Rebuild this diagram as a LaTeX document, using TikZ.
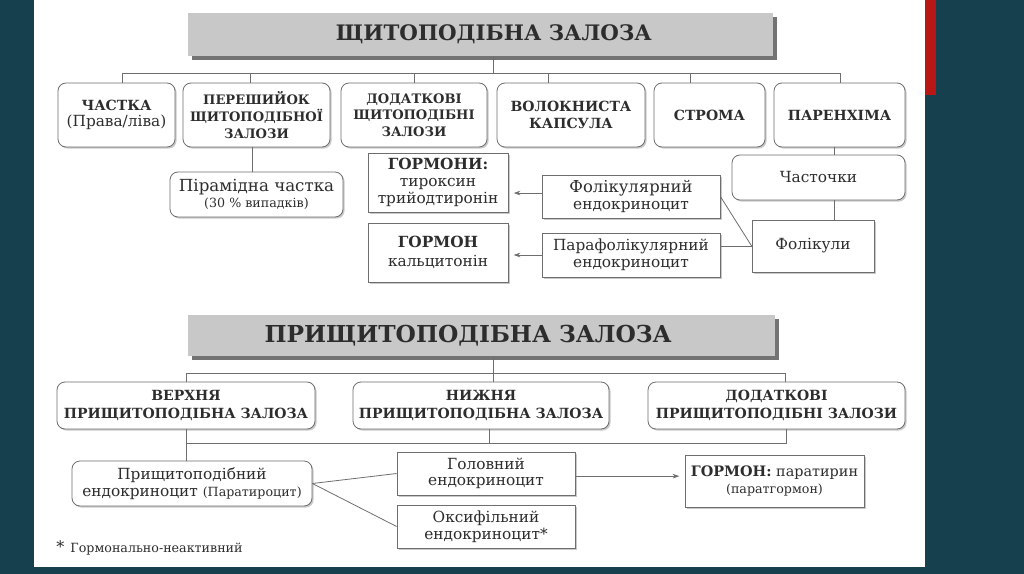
\documentclass[tikz,border=0pt]{standalone}
\usepackage{fontspec}
\setmainfont{DejaVu Serif}
\usetikzlibrary{arrows.meta,shadows}
\definecolor{bgteal}{RGB}{22,64,77}
\definecolor{redbar}{RGB}{185,22,22}
\definecolor{txt}{RGB}{45,45,45}
\definecolor{edge}{RGB}{110,110,110}
\definecolor{titlefill}{RGB}{200,200,200}
\definecolor{titleshadow}{RGB}{115,115,115}
\begin{document}
\begin{tikzpicture}[x=0.75pt,y=-0.75pt,
  sz/.style 2 args={minimum width=#1*0.75pt, minimum height=#2*0.75pt},
  base/.style={draw=edge, line width=0.6pt, fill=white, align=center, text=txt, inner sep=1pt,
    font=\fontsize{10.5}{12.5}\selectfont,
    drop shadow={shadow xshift=1.2pt, shadow yshift=-1.2pt, fill=black!35, opacity=0.6}},
  rbox/.style={base, rounded corners=6pt},
  sbox/.style={base},
  titlebox/.style={fill=titlefill, draw=none, text=txt, font=\fontsize{16}{18}\selectfont\bfseries,
    drop shadow={shadow xshift=3pt, shadow yshift=-3pt, fill=titleshadow, opacity=1}},
  conn/.style={draw=edge, line width=0.6pt},
  arr/.style={conn, -{Stealth[length=5pt,width=3.5pt]}, shorten >=4pt},
]
\useasboundingbox (0,0) rectangle (1024,574);
\fill[bgteal] (0,0) rectangle (1024,574);
\fill[white] (34,0) rectangle (925,567);
\fill[redbar] (925,0) rectangle (936,95);

% ---------- upper part ----------
\node[titlebox, sz={585}{43}] (t1) at (480.5,34.5) {\hspace*{20pt}ЩИТОПОДІБНА ЗАЛОЗА};

\node[rbox, sz={117}{64}] (chastka) at (116.5,115) {\textbf{ЧАСТКА}\\{\fontsize{11.5}{13}\selectfont (Права/ліва)}};
\node[rbox, sz={147}{64}, font=\fontsize{9.8}{12.5}\selectfont\bfseries] (peresh) at (256.5,115) {ПЕРЕШИЙОК\\ЩИТОПОДІБНОЇ\\ЗАЛОЗИ};
\node[rbox, sz={146}{64}, font=\fontsize{9.8}{12.5}\selectfont\bfseries] (dod1) at (414,115) {ДОДАТКОВІ\\ЩИТОПОДІБНІ\\ЗАЛОЗИ};
\node[rbox, sz={148}{64}, font=\fontsize{10.5}{12.5}\selectfont\bfseries] (volok) at (571,115) {ВОЛОКНИСТА\\КАПСУЛА};
\node[rbox, sz={111}{64}, font=\fontsize{10.5}{12.5}\selectfont\bfseries] (stroma) at (709.5,115) {СТРОМА};
\node[rbox, sz={131}{64}, font=\fontsize{10.5}{12.5}\selectfont\bfseries] (paren) at (839.5,115) {ПАРЕНХІМА};

\coordinate (bus1) at (0,73);
\draw[conn] ([xshift=9.75pt]t1.south) -- ([xshift=9.75pt]t1.south |- bus1);
\draw[conn] ([xshift=4.5pt]chastka.north) -- ([xshift=4.5pt]chastka.north |- bus1) -- ([xshift=1pt]paren.north |- bus1) -- ([xshift=1pt]paren.north);
\draw[conn] ([xshift=-4.9pt]peresh.north) -- ([xshift=-4.9pt]peresh.north |- bus1);
\draw[conn] (dod1.north) -- (dod1.north |- bus1);
\draw[conn] ([xshift=-17.25pt]volok.north) -- ([xshift=-17.25pt]volok.north |- bus1);
\draw[conn] ([xshift=-14.6pt]stroma.north) -- ([xshift=-14.6pt]stroma.north |- bus1);

\node[rbox, sz={173}{45}] (piram) at (256.5,194.5) {{\fontsize{12.5}{13.5}\selectfont Пірамідна частка}\\{\fontsize{9.5}{11}\selectfont (30 \% випадків)}};
\draw[conn] ([xshift=-3.4pt]peresh.south) -- ([xshift=-3.4pt]peresh.south |- piram.north);

\node[sbox, sz={140}{59}, font=\fontsize{11.5}{12.5}\selectfont] (gormony) at (438,182.5) {\textbf{ГОРМОНИ:}\\тироксин\\трийодтиронін};
\node[sbox, sz={140}{59}, font=\fontsize{11.5}{14}\selectfont] (gormon) at (438,252.5) {\textbf{ГОРМОН}\\кальцитонін};
\node[sbox, sz={178}{43}, font=\fontsize{11.5}{12.5}\selectfont] (folik) at (631,196.5) {{\fontsize{12.3}{12.5}\selectfont Фолікулярний}\\ендокриноцит};
\node[sbox, sz={178}{44}, font=\fontsize{11.5}{12.5}\selectfont] (parafolik) at (631,255) {Парафолікулярний\\ендокриноцит};
\node[rbox, sz={173}{45}, font=\fontsize{11.5}{13}\selectfont] (chastochky) at (818.5,177.5) {Часточки};
\node[sbox, sz={122}{52}, font=\fontsize{11.5}{13}\selectfont] (folikuly) at (813,246) {Фолікули};

\draw[arr] ([yshift=2.6pt]folik.west) -- ([yshift=2.6pt]folik.west -| gormony.east);
\draw[arr] (parafolik.west) -- (parafolik.west -| gormon.east);
\draw[conn] ([xshift=-4pt]paren.south) -- ([xshift=-4pt]paren.south |- chastochky.north);
\draw[conn] ([xshift=-4pt]paren.south |- chastochky.south) -- ([xshift=-4pt]paren.south |- folikuly.north);
\draw[conn] (folikuly.west) -- (folik.east);
\draw[conn] (folikuly.west) -- (folikuly.west -| parafolik.east);

% ---------- lower part ----------
\node[titlebox, sz={587}{41}, font=\fontsize{17.5}{19}\selectfont\bfseries] (t2) at (481.5,335.5) {ПРИЩИТОПОДІБНА ЗАЛОЗА\hspace*{20pt}};

\node[rbox, sz={258}{47}, font=\fontsize{10.5}{13}\selectfont\bfseries] (verh) at (186,405.5) {ВЕРХНЯ\\ПРИЩИТОПОДІБНА ЗАЛОЗА};
\node[rbox, sz={256}{47}, font=\fontsize{10.5}{13}\selectfont\bfseries] (nyzh) at (481,405.5) {НИЖНЯ\\ПРИЩИТОПОДІБНА ЗАЛОЗА};
\node[rbox, sz={257}{47}, font=\fontsize{10.5}{13}\selectfont\bfseries] (dod2) at (776.5,405.5) {ДОДАТКОВІ\\ПРИЩИТОПОДІБНІ ЗАЛОЗИ};

\coordinate (bus2) at (0,373);
\coordinate (bus3) at (0,443);
\draw[conn] ([xshift=9pt]t2.south) -- ([xshift=9pt]t2.south |- nyzh.north);
\draw[conn] (verh.north) -- (verh.north |- bus2) -- ([xshift=6.4pt]dod2.north |- bus2) -- ([xshift=6.4pt]dod2.north);

\node[rbox, sz={240}{45}, font=\fontsize{11.5}{13}\selectfont] (prysh) at (192,483.5) {Прищитоподібний\\ендокриноцит {\fontsize{9.5}{11}\selectfont (Паратироцит)}};
\node[sbox, sz={178}{43}, font=\fontsize{11.5}{12.5}\selectfont] (golov) at (486,473.5) {Головний\\ендокриноцит};
\node[sbox, sz={178}{43}, font=\fontsize{11.5}{12.5}\selectfont] (oksyf) at (486,526.5) {Оксифільний\\ендокриноцит*};
\node[sbox, sz={179}{52}, font=\fontsize{10.8}{13}\selectfont] (parat) at (774.5,481) {\textbf{ГОРМОН:} паратирин\\{\fontsize{9.5}{11}\selectfont (паратгормон)}};

\draw[conn] (verh.south) -- (verh.south |- prysh.north);
\draw[conn] (verh.south |- bus3) -- ([xshift=7.1pt]dod2.south |- bus3) -- ([xshift=7.1pt]dod2.south);
\draw[conn] ([xshift=6pt]nyzh.south) -- ([xshift=6pt]nyzh.south |- bus3);
\draw[conn] (prysh.east) -- (golov.west);
\draw[conn] (prysh.east) -- (oksyf.west);
\draw[arr] ([yshift=-2pt]golov.east) -- ([yshift=-2pt]golov.east -| parat.west);

\node[anchor=west, text=txt, inner sep=0pt, font=\fontsize{9.5}{11}\selectfont] (foot) at (56,548) {{\fontsize{12}{12}\selectfont *}\, Гормонально-неактивний};
\end{tikzpicture}
\end{document}
